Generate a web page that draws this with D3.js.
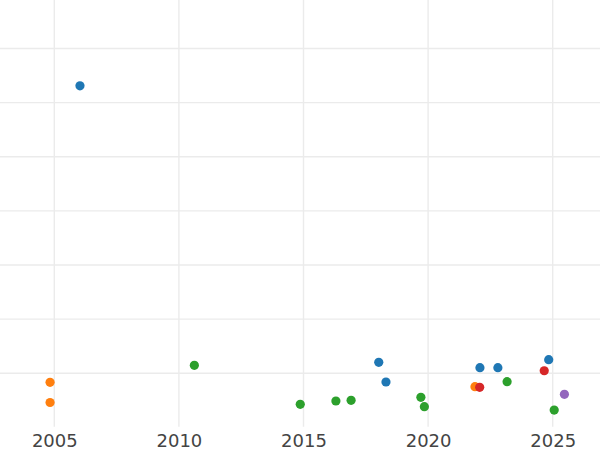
<!DOCTYPE html>
<html>
<head>
<meta charset="utf-8">
<script src="https://cdn.jsdelivr.net/npm/d3@7"></script>
<style>
    body { margin: 0; background: #fff; }
    svg { display: block; }
</style>
</head>
<body>
<script>
// data (year, value, group)
var years  = [2006.03, 2004.83, 2004.83, 2010.62, 2014.87, 2016.30, 2016.91, 2018.02, 2018.31, 2019.71,
              2019.85, 2021.88, 2022.07, 2022.08, 2022.80, 2023.17, 2024.84, 2024.66, 2025.47, 2025.06];
var values = [63.1, 8.33, 4.6, 11.47, 4.27, 4.88, 5.0, 12.03, 8.39, 5.56,
              3.82, 7.52, 7.41, 11.03, 11.03, 8.44, 12.51, 10.47, 6.11, 3.21];
var groups = [0, 1, 1, 2, 2, 2, 2, 0, 0, 2,
              2, 1, 3, 0, 0, 2, 0, 3, 4, 2];
var xTicks = [2005, 2010, 2015, 2020, 2025];
var yTicks = [10, 20, 30, 40, 50, 60, 70];

var width = 600;
var height = 450;
var plotBottom = 427.4;

var svg = d3.select("body")
    .append("svg")
    .attr("width", width)
    .attr("height", height);

var x = d3.scaleLinear()
    .domain([2005, 2025])
    .range([54.3, 552.7]);

var y = d3.scaleLinear()
    .domain([0, 70])
    .range([plotBottom, 373.3 - 6 * 54.13]);

var color = d3.scaleOrdinal()
    .domain([0, 1, 2, 3, 4])
    .range(["#1f77b4", "#ff7f0e", "#2ca02c", "#d62728", "#9467bd"]);

// grid
svg.append("g")
    .selectAll("line")
    .data(yTicks)
    .enter()
    .append("line")
    .attr("x1", 0)
    .attr("x2", width)
    .attr("y1", function (d) { return y(d); })
    .attr("y2", function (d) { return y(d); })
    .style("stroke", "#ebebeb")
    .style("stroke-width", 1.4);

svg.append("g")
    .selectAll("line")
    .data(xTicks)
    .enter()
    .append("line")
    .attr("x1", function (d) { return x(d); })
    .attr("x2", function (d) { return x(d); })
    .attr("y1", 0)
    .attr("y2", plotBottom - 0.6)
    .style("stroke", "#ebebeb")
    .style("stroke-width", 1.4);

// x axis labels
var xAxis = d3.axisBottom(x)
    .tickValues(xTicks)
    .tickFormat(d3.format("d"))
    .tickSize(0)
    .tickPadding(0);

var gx = svg.append("g")
    .attr("transform", "translate(0," + plotBottom + ")")
    .call(xAxis);
gx.select(".domain").remove();
gx.selectAll("text")
    .attr("dy", null)
    .attr("y", 19.6)
    .style("font-family", "DejaVu Sans")
    .style("font-size", "18px")
    .style("fill", "#444");

// points
svg.append("g")
    .selectAll("circle")
    .data(years)
    .enter()
    .append("circle")
    .attr("cx", function (d) { return x(d); })
    .attr("cy", function (d, i) { return y(values[i]); })
    .attr("r", 4.6)
    .attr("fill", function (d, i) { return color(groups[i]); });
</script>
</body>
</html>
